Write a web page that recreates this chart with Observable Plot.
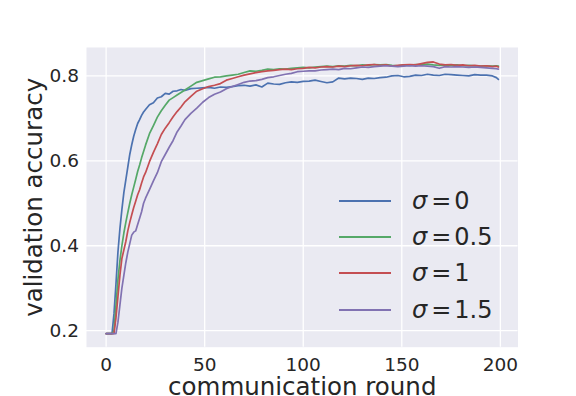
<!DOCTYPE html>
<html>
<head>
<meta charset="utf-8">
<script src="https://cdn.jsdelivr.net/npm/d3@7"></script>
<script src="https://cdn.jsdelivr.net/npm/@observablehq/plot@0.6"></script>
<style>
  body { margin: 0; background: white; }
  #wrap { position: relative; width: 576px; height: 396px; font-family: "DejaVu Sans", sans-serif; color: #262626; }
  #legend { position: absolute; left: 339px; top: 183px; }
  .item { position: relative; height: 36.2px; }
  .swatch { position: absolute; left: 0; top: 17px; width: 52px; height: 0; border-top: 2px solid; }
  .lab { position: absolute; left: 73px; top: 0; font-size: 24px; line-height: 36px; white-space: nowrap; }
  .lab i { font-style: oblique; }
  .lab .eq { margin: 0 3px 0 4px; }
</style>
</head>
<body>
<div id="wrap"></div>
<script>
const seriesNames = ["σ = 0", "σ = 0.5", "σ = 1", "σ = 1.5"];
const seriesSigma = ["0", "0.5", "1", "1.5"];
const colors = ["#4C72B0", "#55A868", "#C44E52", "#8172B2"];
const xTicks = [0, 50, 100, 150, 200];
const yTicks = [0.2, 0.4, 0.6, 0.8];
const xLabel = "communication round";
const yLabel = "validation accuracy";

const rounds = [0,1,2,3,4,5,6,7,8,9,10,11,12,13,14,15,16,17,18,19,20,
  22,24,26,28,30,32,34,36,38,40,
  43,46,49,52,55,58,61,64,67,70,73,76,79,82,85,88,91,94,97,100,103,106,109,112,115,118,121,124,127,130,133,136,139,142,145,148,151,154,157,160,163,166,169,172,175,178,181,184,187,190,193,196,198,199];

const accSigma0 = [0.193,0.193,0.193,0.193,0.24,0.31,0.385,0.44,0.485,0.525,0.555,0.585,0.615,0.638,0.658,0.674,0.688,0.697,0.707,0.715,0.721,
  0.732,0.737,0.748,0.751,0.759,0.757,0.764,0.765,0.768,0.766,
  0.770,0.771,0.772,0.773,0.771,0.774,0.773,0.775,0.777,0.778,0.776,0.779,0.774,0.783,0.781,0.780,0.784,0.786,0.785,0.787,0.788,0.790,0.787,0.784,0.786,0.795,0.793,0.795,0.794,0.792,0.795,0.794,0.796,0.797,0.800,0.801,0.798,0.799,0.802,0.801,0.804,0.802,0.801,0.804,0.803,0.802,0.801,0.800,0.803,0.802,0.802,0.800,0.796,0.792];

const accSigma05 = [0.193,0.193,0.193,0.193,0.200,0.260,0.320,0.365,0.400,0.430,0.455,0.478,0.500,0.520,0.538,0.556,0.575,0.590,0.607,0.622,0.637,
  0.664,0.683,0.703,0.718,0.731,0.743,0.749,0.755,0.761,0.767,
  0.776,0.785,0.789,0.793,0.797,0.798,0.800,0.802,0.804,0.808,0.812,0.811,0.813,0.816,0.815,0.817,0.816,0.818,0.819,0.820,0.819,0.821,0.822,0.823,0.822,0.824,0.823,0.825,0.824,0.826,0.825,0.827,0.826,0.827,0.825,0.824,0.826,0.825,0.827,0.826,0.828,0.826,0.825,0.826,0.825,0.826,0.824,0.825,0.824,0.823,0.824,0.823,0.824,0.823];

const accSigma1 = [0.193,0.193,0.193,0.193,0.193,0.230,0.280,0.330,0.370,0.390,0.410,0.435,0.455,0.473,0.490,0.505,0.520,0.532,0.548,0.562,0.572,
  0.598,0.620,0.640,0.662,0.677,0.690,0.704,0.716,0.727,0.739,
  0.752,0.764,0.770,0.775,0.778,0.782,0.790,0.794,0.798,0.802,0.805,0.808,0.810,0.812,0.813,0.815,0.816,0.815,0.817,0.818,0.820,0.819,0.821,0.822,0.821,0.823,0.822,0.824,0.825,0.824,0.826,0.827,0.825,0.826,0.823,0.825,0.826,0.827,0.826,0.829,0.832,0.833,0.828,0.826,0.827,0.825,0.826,0.824,0.825,0.823,0.824,0.822,0.823,0.821];

const accSigma15 = [0.193,0.193,0.193,0.193,0.193,0.193,0.220,0.260,0.300,0.330,0.360,0.385,0.405,0.425,0.432,0.435,0.450,0.465,0.480,0.500,0.512,
  0.532,0.553,0.572,0.598,0.615,0.632,0.648,0.668,0.682,0.697,
  0.712,0.724,0.738,0.749,0.757,0.762,0.770,0.775,0.780,0.785,0.788,0.789,0.792,0.796,0.798,0.801,0.804,0.806,0.810,0.811,0.812,0.812,0.814,0.815,0.816,0.815,0.818,0.817,0.819,0.821,0.820,0.822,0.823,0.824,0.823,0.822,0.823,0.824,0.823,0.824,0.823,0.822,0.818,0.822,0.821,0.822,0.821,0.820,0.821,0.820,0.819,0.818,0.817,0.816];

const seriesValues = [accSigma0, accSigma05, accSigma1, accSigma15];

const table = [];
seriesValues.forEach((vals, s) => {
  vals.forEach((v, i) => table.push({round: rounds[i], acc: v, series: seriesNames[s]}));
});

const chart = Plot.plot({
  width: 576,
  height: 396,
  marginLeft: 86,
  marginRight: 58.5,
  marginTop: 47,
  marginBottom: 49.3,
  style: {fontFamily: "DejaVu Sans", color: "#262626", background: "white", overflow: "visible"},
  x: {domain: [-9.95, 208.95]},
  y: {domain: [0.161, 0.867]},
  color: {domain: seriesNames, range: colors},
  marks: [
    Plot.frame({fill: "#EAEAF2", stroke: null}),
    Plot.gridX(xTicks, {stroke: "white", strokeOpacity: 1, strokeWidth: 1.3}),
    Plot.gridY(yTicks, {stroke: "white", strokeOpacity: 1, strokeWidth: 1.3}),
    Plot.axisX(xTicks, {tickSize: 0, tickPadding: 11, fontSize: 18.5, label: null, tickFormat: d3.format("d")}),
    Plot.axisY(yTicks, {tickSize: 0, tickPadding: 7.5, fontSize: 18.5, label: null, tickFormat: d3.format(".1f")}),
    Plot.line(table, {x: "round", y: "acc", z: "series", stroke: "series", strokeWidth: 1.7}),
    Plot.text([xLabel], {text: d => d, frameAnchor: "bottom", textAnchor: "middle", lineAnchor: "middle", dy: 40, fontSize: 24.5}),
    Plot.text([yLabel], {text: d => d, frameAnchor: "left", textAnchor: "middle", lineAnchor: "middle", rotate: -90, dx: -52, fontSize: 24.5})
  ]
});

const wrap = document.getElementById("wrap");
wrap.appendChild(chart);

const legend = document.createElement("div");
legend.id = "legend";
seriesSigma.forEach((s, i) => {
  const item = document.createElement("div");
  item.className = "item";
  item.innerHTML = `<div class="swatch" style="border-color:${colors[i]}"></div><div class="lab"><i>σ</i><span class="eq">=</span>${s}</div>`;
  legend.appendChild(item);
});
wrap.appendChild(legend);
</script>
</body>
</html>
